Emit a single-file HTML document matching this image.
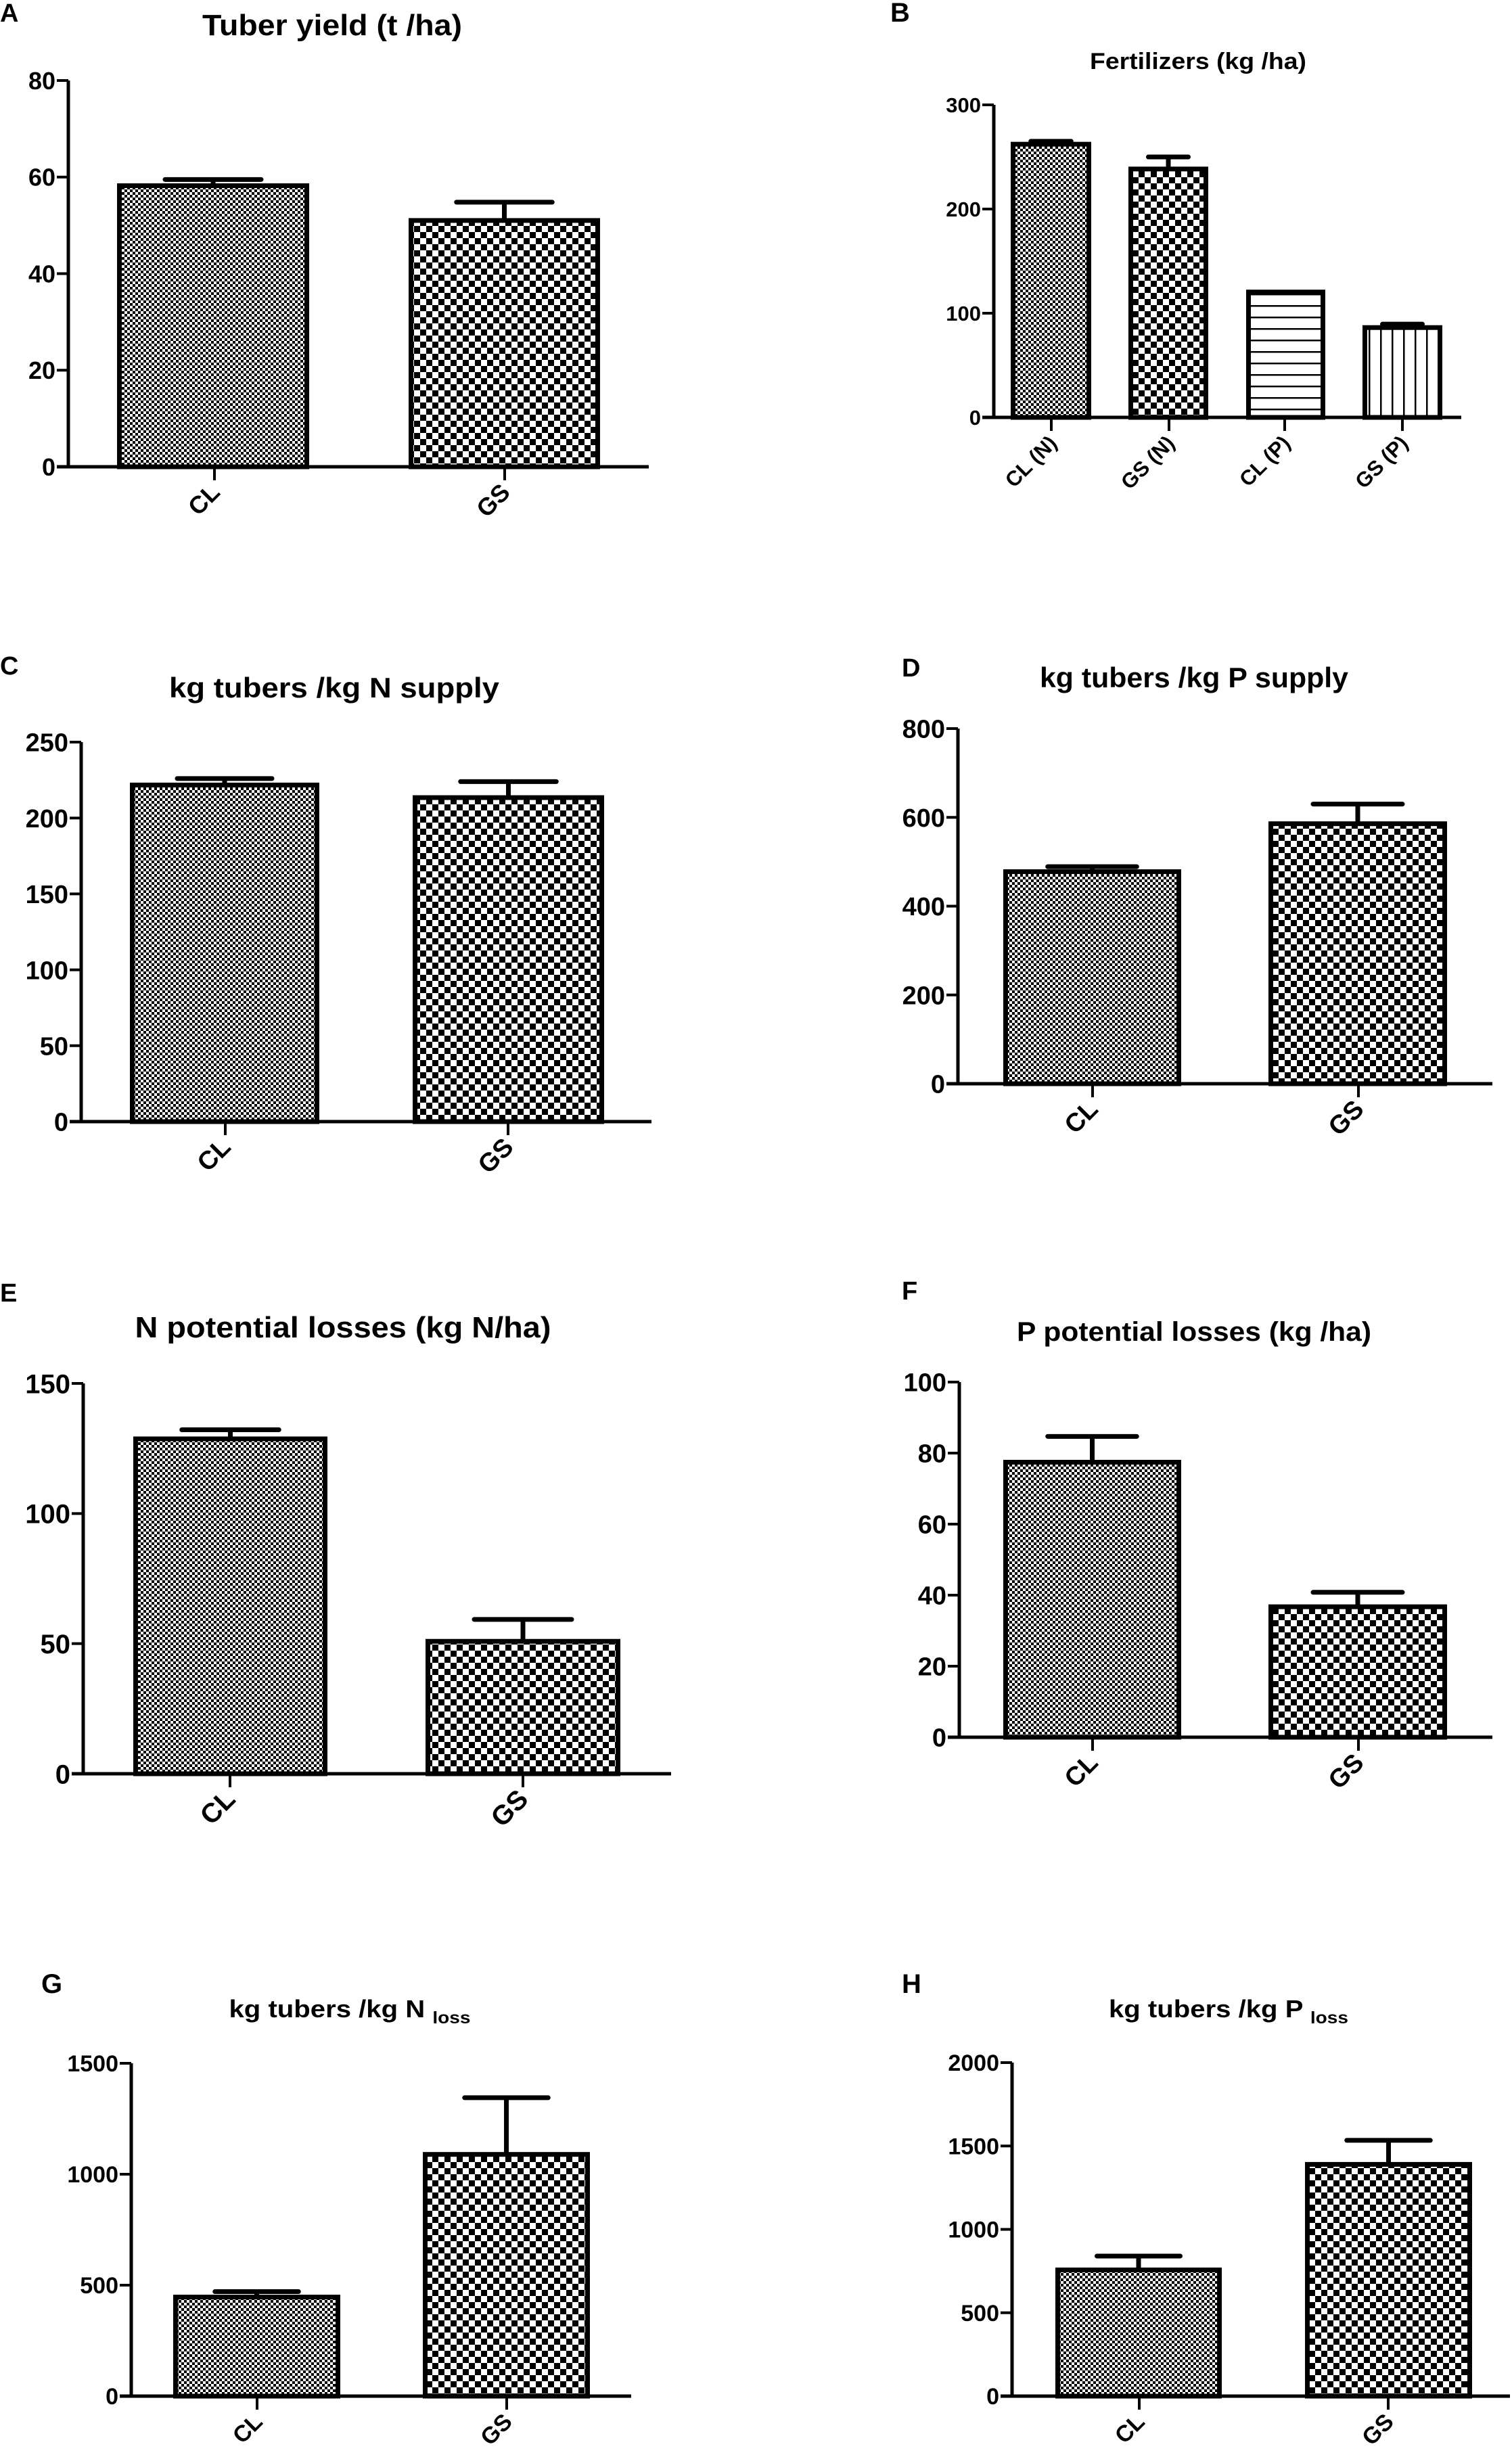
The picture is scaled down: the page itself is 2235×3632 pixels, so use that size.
<!DOCTYPE html>
<html><head><meta charset="utf-8"><style>
html,body{margin:0;padding:0;background:#fff;}
svg{display:block;font-family:"Liberation Sans",Arial,sans-serif;font-weight:bold;}
</style></head><body>
<svg id="fig" xmlns="http://www.w3.org/2000/svg" width="2235" height="3632" viewBox="0 0 2235 3632">
<defs>
<pattern id="fine" width="8" height="8" patternUnits="userSpaceOnUse"><rect width="8" height="8" fill="#fff"/><rect width="4" height="4" fill="#000"/><rect x="4" y="4" width="4" height="4" fill="#000"/></pattern>
<pattern id="coarse" width="18" height="18" patternUnits="userSpaceOnUse"><rect width="18" height="18" fill="#fff"/><rect width="9" height="9" fill="#000"/><rect x="9" y="9" width="9" height="9" fill="#000"/></pattern>
<pattern id="hlines" width="10" height="17" patternUnits="userSpaceOnUse"><rect width="10" height="17" fill="#fff"/><rect y="0" width="10" height="2.5" fill="#000"/></pattern>
<pattern id="vlines" width="17" height="10" patternUnits="userSpaceOnUse"><rect width="17" height="10" fill="#fff"/><rect x="0" width="2.5" height="10" fill="#000"/></pattern>
</defs>
<g id="root" transform="translate(0,-8)"></g>
</svg>
<script>
// ---- data ----
const catsAC = ["CL","GS"];
const catsB = ["CL (N)","GS (N)","CL (P)","GS (P)"];
const valsA = [58.7, 51.5];   const errA = [59.5, 54.8];
const valsB = [264.5, 240.7, 122.6, 88.5]; const errB = [265, 250, 122.6, 89.5];
const valsC = [223.3, 215];   const errC = [226, 224];
const valsD = [483, 591];     const errD = [489, 630];
const valsE = [129.6, 51.8];  const errE = [132.2, 59.3];
const valsF = [78.1, 37.4];   const errF = [84.7, 40.8];
const valsG = [457, 1100];    const errG = [471, 1345];
const valsH = [771, 1404];    const errH = [840, 1534];
const ticksA = [0,20,40,60,80];
const ticksB = [0,100,200,300];
const ticksC = [0,50,100,150,200,250];
const ticksD = [0,200,400,600,800];
const ticksE = [0,50,100,150];
const ticksF = [0,20,40,60,80,100];
const ticksG = [0,500,1000,1500];
const ticksH = [0,500,1000,1500,2000];

const NS = "http://www.w3.org/2000/svg";
const svg = document.getElementById("root");
function mk(tag, attrs, parent){
  const e = document.createElementNS(NS, tag);
  for (const k in attrs) e.setAttribute(k, attrs[k]);
  (parent||svg).appendChild(e);
  return e;
}

const panels = [
 {id:"a", letter:"A", lx:0, ly:40, lfs:38, title:"Tuber yield (t /ha)", tx:491, ty:60, tfs:44, tw:384,
  ax:101, y0:698, ytop:127, xend:959, max:80, ticks:ticksA, fs:36, cats:catsAC, vals:valsA, errs:errA,
  bars:[[173,457],[604,887]], tickx:[317,746], pats:["fine","coarse"]},
 {id:"b", letter:"B", lx:1316, ly:40, lfs:40, title:"Fertilizers (kg /ha)", tx:1771, ty:110, tfs:34, tw:320,
  ax:1469, y0:625, ytop:163, xend:2160, max:300, ticks:ticksB, fs:31, cats:catsB, vals:valsB, errs:errB,
  bars:[[1494,1613],[1668,1786],[1842,1959],[2014,2132]], tickx:[1554,1728,1899,2073], pats:["fine","coarse","hlines","vlines"]},
 {id:"c", letter:"C", lx:0, ly:1005, lfs:38, title:"kg tubers /kg N supply", tx:494, ty:1039, tfs:42, tw:488,
  ax:120, y0:1666, ytop:1105, xend:963, max:250, ticks:ticksC, fs:38, cats:catsAC, vals:valsC, errs:errC,
  bars:[[192,472],[610,893]], tickx:[333,751], pats:["fine","coarse"]},
 {id:"d", letter:"D", lx:1333, ly:1008, lfs:38, title:"kg tubers /kg P supply", tx:1765, ty:1024, tfs:42, tw:456,
  ax:1416, y0:1610, ytop:1085, xend:2206, max:800, ticks:ticksD, fs:38, cats:catsAC, vals:valsD, errs:errD,
  bars:[[1483,1746],[1875,2139]], tickx:[1615,2008], pats:["fine","coarse"]},
 {id:"e", letter:"E", lx:0, ly:1932, lfs:38, title:"N potential losses (kg N/ha)", tx:507, ty:1985, tfs:44, tw:615,
  ax:123, y0:2630, ytop:2053, xend:992, max:150, ticks:ticksE, fs:40, cats:catsAC, vals:valsE, errs:errE,
  bars:[[197,484],[629,917]], tickx:[340,773], pats:["fine","coarse"]},
 {id:"f", letter:"F", lx:1333, ly:1929, lfs:38, title:"P potential losses (kg /ha)", tx:1765, ty:1990, tfs:40, tw:524,
  ax:1418, y0:2576, ytop:2051, xend:2206, max:100, ticks:ticksF, fs:38, cats:catsAC, vals:valsF, errs:errF,
  bars:[[1483,1746],[1875,2139]], tickx:[1615,2008], pats:["fine","coarse"]},
 {id:"g", letter:"G", lx:61, ly:2954, lfs:40, title:"kg tubers /kg N", sub:"loss", tx:517, ty:2990, tfs:36, tw:357,
  ax:194, y0:3550, ytop:3058, xend:933, max:1500, ticks:ticksG, fs:34, cats:catsAC, vals:valsG, errs:errG,
  bars:[[256,503],[625,872]], tickx:[380,749], pats:["fine","coarse"]},
 {id:"h", letter:"H", lx:1333, ly:2954, lfs:40, title:"kg tubers /kg P", sub:"loss", tx:1816, ty:2990, tfs:36, tw:354,
  ax:1496, y0:3550, ytop:3057, xend:2232, max:2000, ticks:ticksH, fs:34, cats:catsAC, vals:valsH, errs:errH,
  bars:[[1560,1806],[1929,2176]], tickx:[1684,2052], pats:["fine","coarse"]}
];

panels.forEach(p => {
  const g = mk("g", {});
  
  
  const y = v => p.y0 - (v / p.max) * (p.y0 - p.ytop);

  const L = mk("text", {x:p.lx, y:p.ly, "font-size":p.lfs}, g);
  L.textContent = p.letter;
  
  

  const T = mk("text", {x:p.tx, y:p.ty, "font-size":p.tfs, "text-anchor":"middle"}, g);
  
  
  if (p.sub) {
    const t1 = mk("tspan", {}, T); t1.textContent = p.title + " ";
    const t2 = mk("tspan", {"font-size": p.tfs*0.7, dy: p.tfs*0.25}, T); t2.textContent = p.sub;
  } else {
    T.textContent = p.title;
  }
  T.setAttribute("textLength", p.tw);
  T.setAttribute("lengthAdjust", "spacingAndGlyphs");

  p.vals.forEach((v, i) => {
    const [x0, x1] = p.bars[i];
    const top = y(v);
    const ey = y(p.errs[i]);
    if (p.errs[i] > v) {
      const cx = (x0 + x1) / 2, hw = (x1 - x0) / 4;
      const el = mk("path", {d:`M${cx},${top} V${ey} M${cx-hw},${ey} H${cx+hw}`, stroke:"#000", "stroke-width":7, "stroke-linecap":"round", fill:"none"}, g);
      
      
    }
    const r = mk("rect", {x:x0+3.5, y:top+3.5, width:x1-x0-7, height:p.y0-top-3.5, fill:"url(#"+p.pats[i]+")", stroke:"#000", "stroke-width":7}, g);
    
    
  });

  const ya = mk("line", {x1:p.ax, y1:p.ytop, x2:p.ax, y2:p.y0, stroke:"#000", "stroke-width":5}, g);
  
  
  const xa = mk("line", {x1:p.ax-17, y1:p.y0, x2:p.xend, y2:p.y0, stroke:"#000", "stroke-width":5}, g);
  
  

  p.ticks.forEach(t => {
    const ty = y(t);
    mk("line", {x1:p.ax-17, y1:ty, x2:p.ax, y2:ty, stroke:"#000", "stroke-width":4}, g);
    const tl = mk("text", {x:p.ax-19, y:ty + p.fs*0.36, "font-size":p.fs, "text-anchor":"end"}, g);
    tl.textContent = t;
    
    
  });

  p.cats.forEach((c, i) => {
    const tx = p.tickx[i];
    mk("line", {x1:tx, y1:p.y0, x2:tx, y2:p.y0+20, stroke:"#000", "stroke-width":4}, g);
    const lx = tx + 10, ly = p.y0 + 40;
    const cl = mk("text", {x:lx, y:ly, "font-size":p.fs, "text-anchor":"end", transform:`rotate(-45 ${lx} ${ly})`}, g);
    cl.textContent = c;
    
    
  });
});
</script>
</body></html>
